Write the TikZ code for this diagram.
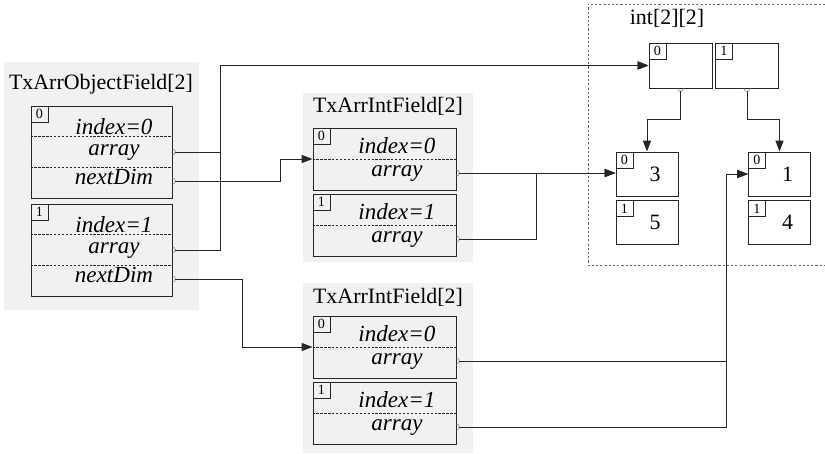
\documentclass[tikz,border=0pt]{standalone}
\usepackage{fontspec}
\setmainfont{Liberation Serif}
\usepackage{tikz}
\usetikzlibrary{arrows.meta}
\definecolor{panelgray}{RGB}{240,242,242}

\begin{document}
\begin{tikzpicture}[font=\fontsize{15.6}{18}\selectfont,
  panel/.style={fill=panelgray, inner sep=0pt},
  elem/.style={draw=black!85, line width=0.7pt, inner sep=0pt},
  idx/.style={draw=black!85, line width=0.5pt, anchor=north west,
    minimum width=0.43cm, minimum height=0.41cm, inner sep=0pt,
    font=\fontsize{10}{10}\selectfont},
  fld/.style={font=\fontsize{16.4}{18}\selectfont\itshape, inner sep=0pt,
    text height=0.7em, text depth=0.2em},
  sep/.style={draw=black!85, line width=0.5pt, dash pattern=on 1.6pt off 1.2pt},
  port/.style={draw=black!45, line width=0.4pt},
  link/.style={draw=black!85, line width=0.7pt,
    -{Triangle[length=0.27cm, width=0.2cm]}},
  frame/.style={draw=black!60, line width=0.6pt, dash pattern=on 1.5pt off 1.5pt}]
\useasboundingbox (0,0) rectangle (20.625,-11.35);

% grey panels with their titles
\node[panel, minimum width=4.875cm, minimum height=6.2cm] (objp) at (2.5375,-4.65) {};
\node[panel, minimum width=4.25cm, minimum height=4.225cm] (iap) at (9.7,-4.4375) {};
\node[panel, minimum width=4.25cm, minimum height=4.25cm] (ibp) at (9.7,-9.2) {};
\node (objt) at (2.525,-2.1) {TxArrObjectField[2]};
\node (iat) at (9.7,-2.6625) {TxArrIntField[2]};
\node (ibt) at (9.7,-7.425) {TxArrIntField[2]};

% object field elements
\foreach \i/\y in {0/-3.8, 1/-6.25} {
  \node[elem, minimum width=3.525cm, minimum height=2.3cm] (obj\i) at (2.5375,\y) {};
  \node[idx] (obj\i-n) at (obj\i.north west) {\i};
  \draw[sep] (obj\i.west) ++(0,0.383) -- ++(3.525,0);
  \draw[sep] (obj\i.west) ++(0,-0.383) -- ++(3.525,0);
  \node[fld] (obj\i-ix) at (2.85,{\y+0.52}) {index=\i};
  \node[fld] (obj\i-arr) at (2.85,\y) {array};
  \node[fld] (obj\i-nd) at (2.85,{\y-0.73}) {nextDim};
  \draw[port] (obj\i.east |- obj\i-arr) ++(0,.075) arc[start angle=90, end angle=-90, radius=.075];
  \draw[port] (obj\i.east |- obj\i-nd) ++(0,.075) arc[start angle=90, end angle=-90, radius=.075];
}

% int field elements, upper (ia) and lower (ib)
\foreach \f/\y in {ia/-3.975, ib/-8.675} {
  \foreach \i in {0,1} {
    \node[elem, minimum width=3.575cm, minimum height=1.55cm] (\f\i) at (9.6125,{\y-1.65*\i}) {};
    \node[idx] (\f\i-n) at (\f\i.north west) {\i};
    \draw[sep] (\f\i.west) -- (\f\i.east);
    \node[fld] (\f\i-ix) at (9.925,{\y-1.65*\i+0.22}) {index=\i};
    \node[fld] (\f\i-arr) at (9.925,{\y-1.65*\i-0.35}) {array};
    \draw[port] (\f\i.east |- \f\i-arr) ++(0,.075) arc[start angle=90, end angle=-90, radius=.075];
  }
}

% the int[2][2] object
\draw[frame] (20.625,-0.1) -| (14.7,-6.625) -- (20.625,-6.625);
\node (intt) at (16.675,-0.45) {int[2][2]};
\foreach \c/\x in {0/17.0125, 1/18.675} {
  \node[elem, minimum width=1.575cm, minimum height=1.125cm] (dim\c) at (\x,-1.6375) {};
  \node[idx] (dim\c-n) at (dim\c.north west) {\c};
  \draw[port] (dim\c.south) ++(-.075,0) arc[start angle=180, end angle=360, radius=.075];
}
\foreach \c/\x/\a/\b in {0/16.175/3/5, 1/19.4875/1/4} {
  \node[elem, minimum width=1.55cm, minimum height=1.1cm] (cell\c0) at (\x,-4.35) {};
  \node[elem, minimum width=1.55cm, minimum height=1.1cm] (cell\c1) at (\x,-5.5625) {};
  \node[idx] (cell\c0-n) at (cell\c0.north west) {0};
  \node[idx] (cell\c1-n) at (cell\c1.north west) {1};
  \node (cell\c0-v) at ([xshift=.2cm]cell\c0) {\a};
  \node (cell\c1-v) at ([xshift=.2cm]cell\c1) {\b};
}

% references
\draw[link] ([xshift=.075cm]obj0.east |- obj0-arr) -- ++(1.125,0) |- (dim0.west);
\draw[link] ([xshift=.075cm]obj1.east |- obj1-arr) -- ++(1.125,0) |- (dim0.west);
\draw[link] ([xshift=.075cm]obj0.east |- obj0-nd) -- ++(2.625,0) |- (ia0.west);
\draw[link] ([xshift=.075cm]obj1.east |- obj1-nd) -- ++(1.675,0) |- (ib0.west);
\draw[link] ([xshift=.075cm]ia0.east |- ia0-arr) -- (cell00.west |- ia0-arr);
\draw[link] ([xshift=.075cm]ia1.east |- ia1-arr) -- ++(1.925,0) |- (cell00.west |- ia0-arr);
\draw[link] ([xshift=.075cm]ib0.east |- ib0-arr) -- ++(6.675,0) |- (cell10.west);
\draw[link] ([xshift=.075cm]ib1.east |- ib1-arr) -- ++(6.675,0) |- (cell10.west);
\draw[link] ([yshift=-.075cm]dim0.south) -- ++(0,-0.7) -| (cell00.north);
\draw[link] ([yshift=-.075cm]dim1.south) -- ++(0,-0.7) -| (cell10.north);
\end{tikzpicture}
\end{document}
